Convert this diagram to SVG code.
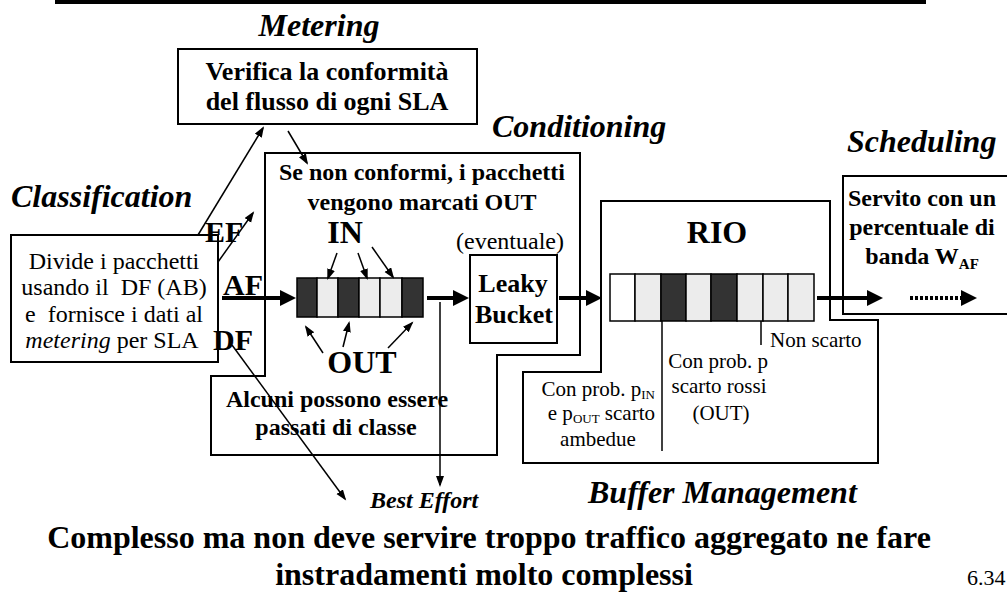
<svg xmlns="http://www.w3.org/2000/svg" width="1007" height="592" viewBox="0 0 1007 592">
<style>
text{font-family:"Liberation Serif","Times New Roman",serif;fill:#000}
.b{font-weight:bold}
.bi{font-weight:bold;font-style:italic}
.i{font-style:italic}
.box{fill:#fff;stroke:#000;stroke-width:2}
.thin{stroke:#000;stroke-width:1.5;fill:none}
.thick{stroke:#000;stroke-width:4;fill:none}
.dark{fill:#333;stroke:#000;stroke-width:1.5}
.light{fill:#ececec;stroke:#000;stroke-width:1.5}
.white{fill:#fff;stroke:#000;stroke-width:1.5}
</style>
<defs>
<marker id="ah" markerUnits="userSpaceOnUse" markerWidth="12" markerHeight="10" refX="9" refY="4" orient="auto">
<path d="M0,0 L11,4 L0,8 z" fill="#000"/>
</marker>
<marker id="ahb" markerUnits="userSpaceOnUse" markerWidth="18" markerHeight="18" refX="3" refY="8" orient="auto">
<path d="M0,0 L16,8 L0,16 z" fill="#000"/>
</marker>
</defs>
<rect width="1007" height="592" fill="#fff"/>
<line x1="55" y1="2" x2="926" y2="2" stroke="#000" stroke-width="4"/>

<g id="metering">
<text class="bi" x="319" y="36" font-size="32" text-anchor="middle">Metering</text>
<rect class="box" x="178" y="49" width="299" height="75"/>
<text class="b" x="327" y="80" font-size="26" text-anchor="middle">Verifica la conformità</text>
<text class="b" x="327" y="110" font-size="26" text-anchor="middle">del flusso di ogni SLA</text>
</g>

<g id="conditioning">
<path class="box" d="M265,153 H580 V355 H497 V455 H211 V376 H265 Z"/>
<text class="bi" x="492" y="137" font-size="32">Conditioning</text>
<text class="b" x="422" y="180" font-size="24" text-anchor="middle">Se non conformi, i pacchetti</text>
<text class="b" x="422" y="210" font-size="24" text-anchor="middle">vengono marcati OUT</text>
<text class="b" x="345" y="243" font-size="32" text-anchor="middle">IN</text>
<text class="b" x="362" y="373" font-size="32" text-anchor="middle">OUT</text>
<text class="b" x="337" y="407" font-size="24" text-anchor="middle">Alcuni possono essere</text>
<text class="b" x="336" y="435" font-size="24" text-anchor="middle">passati di classe</text>
</g>

<g id="queue-in-out">
<rect class="dark" x="297" y="278" width="20" height="39"/>
<rect class="light" x="317" y="278" width="21" height="39"/>
<rect class="dark" x="338" y="278" width="21" height="39"/>
<rect class="light" x="359" y="278" width="21" height="39"/>
<rect class="light" x="380" y="278" width="22" height="39"/>
<rect class="dark" x="402" y="278" width="21" height="39"/>
</g>

<g id="leaky-bucket">
<text x="510" y="249" font-size="24" text-anchor="middle">(eventuale)</text>
<rect class="box" x="470" y="255" width="87" height="88"/>
<text class="b" x="513" y="292" font-size="26" text-anchor="middle">Leaky</text>
<text class="b" x="514" y="323" font-size="26" text-anchor="middle">Bucket</text>
</g>

<g id="classification">
<text class="bi" x="11" y="207" font-size="32">Classification</text>
<rect class="box" x="11" y="235" width="207" height="127"/>
<text x="114" y="269" font-size="24" text-anchor="middle">Divide i pacchetti</text>
<text x="114" y="295" font-size="24" text-anchor="middle" xml:space="preserve">usando il  DF (AB)</text>
<text x="114" y="322" font-size="24" text-anchor="middle" xml:space="preserve">e  fornisce i dati al</text>
<text x="112" y="348" font-size="24" text-anchor="middle"><tspan class="i">metering</tspan> per SLA</text>
</g>

<g id="class-labels">
<text class="b" x="205" y="242" font-size="30">EF</text>
<text class="b" x="223" y="295" font-size="30">AF</text>
<text class="b" x="213" y="350" font-size="30">DF</text>
</g>

<g id="rio">
<path class="box" d="M601,201 H830 V320 H878 V463 H523 V372 H601 Z"/>
<text class="b" x="717" y="243" font-size="32" text-anchor="middle">RIO</text>
<rect class="white" x="610" y="274" width="25" height="47"/>
<rect class="light" x="635" y="274" width="26" height="47"/>
<rect class="dark" x="661" y="274" width="25" height="47"/>
<rect class="light" x="686" y="274" width="25" height="47"/>
<rect class="dark" x="711" y="274" width="26" height="47"/>
<rect class="light" x="737" y="274" width="26" height="47"/>
<rect class="light" x="763" y="274" width="25" height="47"/>
<rect class="light" x="788" y="274" width="26" height="47"/>
<line class="thin" x1="662" y1="321" x2="662" y2="451"/>
<line class="thin" x1="761" y1="321" x2="761" y2="345"/>
<text x="770" y="347" font-size="21">Non scarto</text>
<text x="718" y="368" font-size="21" text-anchor="middle">Con prob. p</text>
<text x="719" y="393" font-size="21" text-anchor="middle">scarto rossi</text>
<text x="721" y="420" font-size="21" text-anchor="middle">(OUT)</text>
<text x="655" y="396" font-size="21" text-anchor="end">Con prob. p<tspan font-size="13" dy="3">IN</tspan></text>
<text x="655" y="420" font-size="21" text-anchor="end">e p<tspan font-size="13" dy="3">OUT</tspan><tspan dy="-3"> scarto</tspan></text>
<text x="598" y="446" font-size="21" text-anchor="middle">ambedue</text>
<text class="bi" x="588" y="503" font-size="32">Buffer Management</text>
</g>

<g id="scheduling">
<text class="bi" x="847" y="152" font-size="32">Scheduling</text>
<rect class="box" x="843" y="176" width="180" height="138"/>
<text class="b" x="922" y="206" font-size="24" text-anchor="middle">Servito con un</text>
<text class="b" x="922" y="235" font-size="24" text-anchor="middle">percentuale di</text>
<text class="b" x="922" y="264" font-size="24" text-anchor="middle">banda W<tspan font-size="15" dy="5">AF</tspan></text>
</g>

<g id="connectors">
<line class="thin" x1="198" y1="235" x2="263" y2="128" marker-end="url(#ah)"/>
<line class="thin" x1="288" y1="131" x2="307" y2="163" marker-end="url(#ah)"/>
<line class="thin" x1="218" y1="262" x2="253" y2="213" marker-end="url(#ah)"/>
<line class="thin" x1="232" y1="345" x2="345" y2="499" marker-end="url(#ah)"/>
<line class="thin" x1="440" y1="302" x2="440" y2="485" marker-end="url(#ah)"/>
<line class="thin" x1="337" y1="253" x2="328" y2="278" marker-end="url(#ah)"/>
<line class="thin" x1="358" y1="253" x2="367" y2="278" marker-end="url(#ah)"/>
<line class="thin" x1="372" y1="247" x2="393" y2="277" marker-end="url(#ah)"/>
<line class="thin" x1="323" y1="353" x2="306" y2="327" marker-end="url(#ah)"/>
<line class="thin" x1="343" y1="347" x2="349" y2="323" marker-end="url(#ah)"/>
<line class="thin" x1="388" y1="348" x2="412" y2="323" marker-end="url(#ah)"/>
<line class="thick" x1="222" y1="298" x2="283" y2="298" marker-end="url(#ahb)"/>
<line class="thick" x1="427" y1="298" x2="456" y2="298" marker-end="url(#ahb)"/>
<line class="thick" x1="559" y1="298" x2="589" y2="298" marker-end="url(#ahb)"/>
<line class="thick" x1="817" y1="298" x2="870" y2="298" marker-end="url(#ahb)"/>
<line class="thick" x1="910" y1="298" x2="964" y2="298" stroke-dasharray="3 2" marker-end="url(#ahb)"/>
</g>

<g id="best-effort">
<text class="bi" x="370" y="508" font-size="24">Best Effort</text>
</g>

<g id="footer">
<text class="b" x="489" y="548" font-size="32" text-anchor="middle">Complesso ma non deve servire troppo traffico aggregato ne fare</text>
<text class="b" x="484" y="585" font-size="32" text-anchor="middle">instradamenti molto complessi</text>
<text x="967" y="585" font-size="22">6.34</text>
</g>
</svg>
